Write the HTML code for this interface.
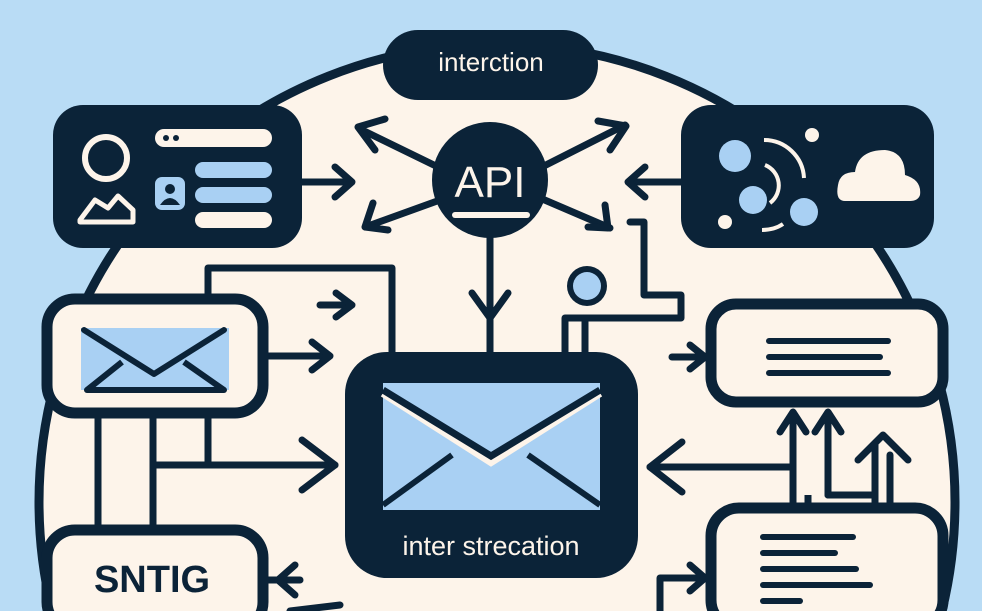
<!DOCTYPE html>
<html><head><meta charset="utf-8"><style>
html,body{margin:0;padding:0;background:#b9dcf5;width:982px;height:611px;overflow:hidden;}
svg{display:block}
text{font-family:"Liberation Sans","DejaVu Sans",sans-serif;}
</style></head><body>
<svg width="982" height="611" viewBox="0 0 982 611" xmlns="http://www.w3.org/2000/svg" overflow="hidden">
<rect width="982" height="611" fill="#b9dcf5"/>
<circle cx="497" cy="502" r="458" fill="#fdf4ea" stroke="#0b2338" stroke-width="9"/>
<g stroke="#0b2338" stroke-width="7" fill="none" stroke-linecap="round" stroke-linejoin="round">
<line x1="440" y1="168" x2="362" y2="130"/><polyline points="385,119 358,127 375,150"/>
<line x1="440" y1="200" x2="368" y2="226"/><polyline points="373,203 365,227 388,230"/>
<line x1="540" y1="168" x2="625" y2="125"/><polyline points="598,121 626,126 610,150"/>
<line x1="540" y1="198" x2="610" y2="228"/><polyline points="605,205 608,228 588,227"/>
<line x1="302" y1="182" x2="350" y2="182"/><polyline points="335,167 352,182 335,197"/>
<line x1="681" y1="182" x2="630" y2="182"/><polyline points="645,167 628,182 645,197"/>
<line x1="490" y1="235" x2="490" y2="352"/><polyline points="472,293 490,318 508,293"/>
<polyline points="630,222 644,222 644,295 681,295 681,318 565,318 565,352"/>
<line x1="585" y1="318" x2="585" y2="352"/>
<polyline points="208,300 208,268 392,268 392,352"/>
<line x1="320" y1="305" x2="350" y2="305"/><polyline points="336,293 352,305 336,317"/>
<line x1="268" y1="356" x2="327" y2="356"/><polyline points="312,342 330,356 312,370"/>
<line x1="98" y1="415" x2="98" y2="528"/>
<line x1="153" y1="415" x2="153" y2="528"/>
<line x1="208" y1="415" x2="208" y2="462"/>
<line x1="153" y1="465" x2="335" y2="465"/><polyline points="302,440 335,465 302,490"/>
<line x1="268" y1="580" x2="300" y2="580"/><polyline points="295,565 278,580 295,595"/>
<line x1="290" y1="611" x2="340" y2="605"/>
<line x1="790" y1="467" x2="650" y2="467"/><polyline points="682,442 650,467 682,492"/>
<line x1="793" y1="505" x2="793" y2="415"/><polyline points="780,432 793,412 806,432"/>
<line x1="828" y1="495" x2="828" y2="415"/><polyline points="815,432 828,412 841,432"/>
<polyline points="828,495 875,495 875,580"/>
<polyline points="875,580 875,445"/><polyline points="858,460 883,435 908,460"/>
<polyline points="890,455 890,600 870,600"/>
<line x1="672" y1="357" x2="705" y2="357"/><polyline points="690,345 705,357 690,369"/>
<polyline points="660,611 660,578 705,578"/><polyline points="690,565 705,578 690,591"/>
</g>
<rect x="383" y="30" width="215" height="70" rx="35" fill="#0b2338"/>
<text x="491" y="71" font-size="26" fill="#fdf4ea" text-anchor="middle">interction</text>
<rect x="53" y="105" width="249" height="143" rx="30" fill="#0b2338"/>
<circle cx="106" cy="158" r="21" fill="none" stroke="#fdf4ea" stroke-width="6"/>
<polygon points="80,220 95,200 108,208 118,196 133,210 133,222 80,222" fill="none" stroke="#fdf4ea" stroke-width="5" stroke-linejoin="round"/>
<rect x="155" y="129" width="117" height="18" rx="9" fill="#fdf4ea"/>
<circle cx="166" cy="138" r="3" fill="#0b2338"/><circle cx="176" cy="138" r="3" fill="#0b2338"/>
<rect x="195" y="162" width="77" height="16" rx="8" fill="#a9d0f3"/>
<rect x="195" y="187" width="77" height="16" rx="8" fill="#a9d0f3"/>
<rect x="195" y="212" width="77" height="16" rx="8" fill="#fdf4ea"/>
<rect x="155" y="177" width="30" height="33" rx="7" fill="#a9d0f3"/>
<circle cx="170" cy="189" r="5" fill="#0b2338"/><path d="M160,205 Q170,191 180,205Z" fill="#0b2338"/>
<rect x="681" y="105" width="253" height="143" rx="30" fill="#0b2338"/>
<circle cx="735" cy="156" r="16" fill="#a9d0f3"/>
<circle cx="753" cy="200" r="14" fill="#a9d0f3"/>
<circle cx="804" cy="212" r="14" fill="#a9d0f3"/>
<circle cx="812" cy="135" r="7" fill="#fdf4ea"/><circle cx="725" cy="222" r="7" fill="#fdf4ea"/>
<path d="M764,140 A40,40 0 0 1 804,178" fill="none" stroke="#fdf4ea" stroke-width="4"/>
<path d="M765,165 A22,22 0 0 1 770,203" fill="none" stroke="#fdf4ea" stroke-width="4"/>
<path d="M762,230 A30,20 0 0 0 783,224" fill="none" stroke="#fdf4ea" stroke-width="4"/>
<path d="M845,201 Q835,201 838,185 Q840,172 855,172 Q858,150 885,150 Q905,152 905,175 Q922,180 920,195 Q918,201 910,201Z" fill="#fdf4ea"/>
<circle cx="490" cy="180" r="58" fill="#0b2338"/>
<text x="490" y="197" font-size="44" fill="#fdf4ea" text-anchor="middle">API</text>
<rect x="452" y="212" width="78" height="6" rx="3" fill="#fdf4ea"/>
<circle cx="587" cy="286" r="20" fill="#0b2338"/><circle cx="587" cy="286" r="14" fill="#a9d0f3"/>
<rect x="345" y="352" width="293" height="226" rx="42" fill="#0b2338"/>
<rect x="383" y="383" width="217" height="127" fill="#a9d0f3"/>
<polyline points="383,393 491,462 600,393" fill="none" stroke="#fdf4ea" stroke-width="8"/>
<polyline points="383,390 491,456 600,390" fill="none" stroke="#0b2338" stroke-width="7"/>
<line x1="383" y1="505" x2="452" y2="455" stroke="#0b2338" stroke-width="6"/>
<line x1="600" y1="505" x2="528" y2="455" stroke="#0b2338" stroke-width="6"/>
<text x="491" y="555" font-size="27" fill="#fdf4ea" text-anchor="middle">inter strecation</text>
<rect x="47" y="299" width="216" height="114" rx="28" fill="#fdf4ea" stroke="#0b2338" stroke-width="11"/>
<rect x="81" y="328" width="148" height="62" fill="#a9d0f3"/>
<polyline points="84,330 154,374 224,330" fill="none" stroke="#0b2338" stroke-width="6" stroke-linejoin="round" stroke-linecap="round"/>
<polyline points="122,362 87,390 224,390 184,362" fill="none" stroke="#0b2338" stroke-width="6" stroke-linejoin="round"/>
<rect x="47" y="530" width="216" height="100" rx="28" fill="#fdf4ea" stroke="#0b2338" stroke-width="11"/>
<text x="152" y="592" font-size="38" font-weight="bold" fill="#0b2338" text-anchor="middle">SNTIG</text>
<rect x="711" y="304" width="232" height="98" rx="25" fill="#fdf4ea" stroke="#0b2338" stroke-width="11"/>
<g stroke="#0b2338" stroke-width="6" stroke-linecap="round">
<line x1="769" y1="341" x2="888" y2="341"/><line x1="769" y1="357" x2="880" y2="357"/><line x1="769" y1="373" x2="888" y2="373"/>
</g>
<rect x="711" y="508" width="232" height="120" rx="28" fill="#fdf4ea" stroke="#0b2338" stroke-width="11"/>
<g stroke="#0b2338" stroke-width="6" stroke-linecap="round">
<line x1="763" y1="537" x2="853" y2="537"/><line x1="763" y1="553" x2="835" y2="553"/><line x1="763" y1="569" x2="856" y2="569"/><line x1="763" y1="585" x2="870" y2="585"/><line x1="763" y1="601" x2="800" y2="601"/>
</g>
<polyline points="793,505 793,508 808,508 808,495" fill="none" stroke="#0b2338" stroke-width="7"/>
</svg>
</body></html>
